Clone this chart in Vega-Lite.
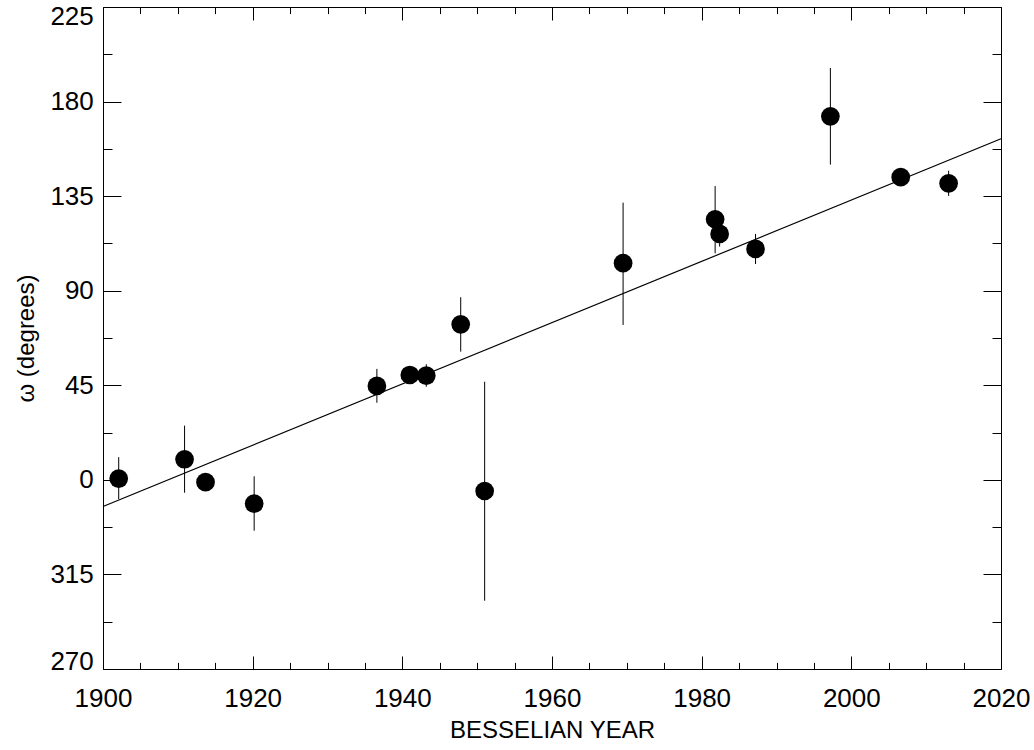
{
  "$schema": "https://vega.github.io/schema/vega-lite/v6.json",
  "width": 898,
  "height": 662,
  "autosize": {"type": "none"},
  "padding": {"left": 103, "top": 7, "right": 33, "bottom": 81},
  "background": "white",
  "config": {
    "view": {"stroke": null},
    "axis": {
      "domainColor": "black",
      "tickColor": "black",
      "labelColor": "black",
      "titleColor": "black",
      "labelFont": "Liberation Sans",
      "titleFont": "Liberation Sans",
      "grid": false,
      "domainWidth": 1,
      "tickWidth": 1,
      "labelFontWeight": "normal",
      "titleFontWeight": "normal"
    }
  },
  "datasets": {
    "obs": [
      {"year": 1902.1, "omega": 0.6, "lo": -9.2, "hi": 10.8},
      {"year": 1910.9, "omega": 9.8, "lo": -6.1, "hi": 25.8},
      {"year": 1913.7, "omega": -1.1, "lo": -4, "hi": 2},
      {"year": 1920.2, "omega": -11.3, "lo": -24.2, "hi": 1.7},
      {"year": 1936.6, "omega": 44.7, "lo": 36.7, "hi": 52.8},
      {"year": 1941.0, "omega": 49.9, "lo": 47, "hi": 53},
      {"year": 1943.2, "omega": 49.6, "lo": 44.3, "hi": 55.0},
      {"year": 1947.8, "omega": 74.0, "lo": 61.0, "hi": 86.9},
      {"year": 1951.0, "omega": -5.3, "lo": -57.5, "hi": 46.7},
      {"year": 1969.5, "omega": 103.1, "lo": 73.7, "hi": 131.9},
      {"year": 1981.8, "omega": 124.0, "lo": 107.8, "hi": 139.8},
      {"year": 1982.4, "omega": 117.0, "lo": 111, "hi": 123},
      {"year": 1987.2, "omega": 109.9, "lo": 102.7, "hi": 117.0},
      {"year": 1997.2, "omega": 173.0, "lo": 150.0, "hi": 196.0},
      {"year": 2006.6, "omega": 144.0, "lo": 141, "hi": 147},
      {"year": 2013.0, "omega": 141.1, "lo": 135.1, "hi": 147.1}
    ],
    "fit": [
      {"year": 1900, "omega": -12.7},
      {"year": 2020, "omega": 162.3}
    ]
  },
  "layer": [
    {
      "data": {"name": "fit"},
      "mark": {"type": "line", "color": "black", "strokeWidth": 1.2},
      "encoding": {
        "x": {
          "field": "year", "type": "quantitative",
          "scale": {"domain": [1900, 2020], "nice": false, "zero": false},
          "axis": {
            "orient": "bottom",
            "values": [1900,1905,1910,1915,1920,1925,1930,1935,1940,1945,1950,1955,1960,1965,1970,1975,1980,1985,1990,1995,2000,2005,2010,2015,2020],
            "tickSize": {"condition": {"test": "datum.value % 20 === 0", "value": -13}, "value": -6.6},
            "format": "d",
            "labelExpr": "datum.value % 20 === 0 ? datum.label : ''",
            "labelFontSize": 26,
            "labelPadding": 50,
            "labelBaseline": "alphabetic",
            "labelFlush": false,
            "labelOverlap": false,
            "title": "BESSELIAN YEAR",
            "titleFontSize": 24,
            "titleX": 449,
            "titleY": 68,
            "titleBaseline": "alphabetic",
            "titleAlign": "center"
          }
        },
        "y": {
          "field": "omega", "type": "quantitative",
          "scale": {"domain": [-90, 225], "nice": false, "zero": false},
          "axis": {
            "orient": "left",
            "values": [-90,-67.5,-45,-22.5,0,22.5,45,67.5,90,112.5,135,157.5,180,202.5,225],
            "tickSize": {"condition": {"test": "datum.value % 45 === 0", "value": -18}, "value": -9},
            "labelExpr": "datum.value % 45 === 0 ? '' + (datum.value < 0 ? datum.value + 360 : datum.value) : ''",
            "labelFontSize": 26,
            "labelPadding": 27.7,
            "labelBaseline": {"condition": [{"test": "datum.value === -90", "value": "alphabetic"}, {"test": "datum.value === 225", "value": "top"}], "value": "middle"},
            "labelOffset": {"condition": {"test": "datum.value === 225", "value": -4}, "value": 0},
            "labelFlush": false,
            "labelOverlap": false,
            "title": "ω (degrees)",
            "titleFontSize": 24,
            "titleAngle": -90,
            "titleX": -65,
            "titleY": 331,
            "titleBaseline": "bottom",
            "titleAlign": "center"
          }
        }
      }
    },
    {
      "data": {"name": "obs"},
      "mark": {"type": "rule", "color": "black", "strokeWidth": 1},
      "encoding": {
        "x": {
          "field": "year", "type": "quantitative",
          "axis": {
            "orient": "top",
            "values": [1900,1905,1910,1915,1920,1925,1930,1935,1940,1945,1950,1955,1960,1965,1970,1975,1980,1985,1990,1995,2000,2005,2010,2015,2020],
            "tickSize": {"condition": {"test": "datum.value % 20 === 0", "value": -13}, "value": -6.6},
            "labels": false,
            "title": null
          }
        },
        "y": {
          "field": "lo", "type": "quantitative",
          "axis": {
            "orient": "right",
            "values": [-90,-67.5,-45,-22.5,0,22.5,45,67.5,90,112.5,135,157.5,180,202.5,225],
            "tickSize": {"condition": {"test": "datum.value % 45 === 0", "value": -18}, "value": -9},
            "labels": false,
            "title": null
          }
        },
        "y2": {"field": "hi"}
      }
    },
    {
      "data": {"name": "obs"},
      "mark": {"type": "circle", "color": "black", "opacity": 1, "size": 350},
      "encoding": {
        "x": {"field": "year", "type": "quantitative", "axis": null},
        "y": {"field": "omega", "type": "quantitative", "axis": null}
      }
    }
  ],
  "resolve": {"axis": {"x": "independent", "y": "independent"}}
}
